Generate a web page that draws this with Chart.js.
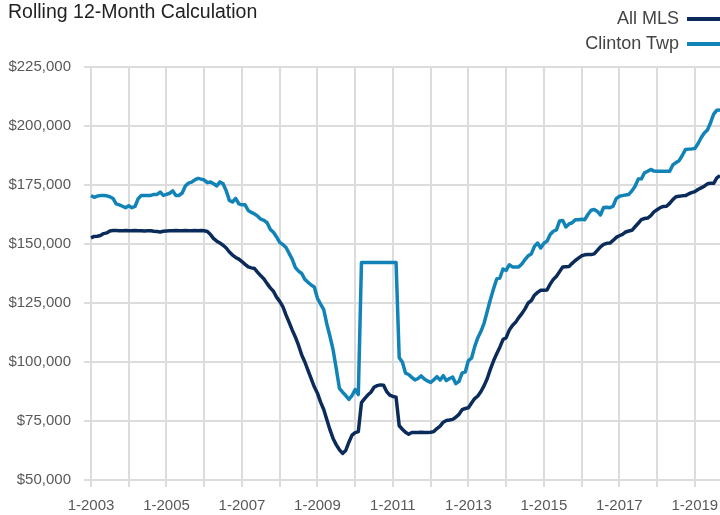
<!DOCTYPE html>
<html lang="en">
<head>
  <meta charset="UTF-8" />
  <title>Rolling 12-Month Calculation</title>
  <script src="https://cdn.jsdelivr.net/npm/chart.js"></script>
  <style>
    body {
      margin: 0;
      background: #fff;
      font-family: 'Liberation Sans', Arial, sans-serif;
    }
    #wrap {
      position: relative;
      width: 720px;
      height: 515px;
      overflow: hidden;
    }
    #title {
      position: absolute;
      left: 8px;
      top: 0;
      font-size: 19.5px;
      color: #222;
      white-space: nowrap;
    }
    #legend {
      position: absolute;
      right: 0;
      top: 6px;
      font-size: 18px;
      color: #444;
      text-align: right;
    }
    .item {
      height: 25px;
      line-height: 25px;
      white-space: nowrap;
    }
    .swatch {
      display: inline-block;
      width: 33px;
      height: 4px;
      margin-left: 8px;
      vertical-align: middle;
    }
    canvas {
      position: absolute;
      left: 0;
      top: 0;
    }
  </style>
</head>
<body>
  <div id="wrap">
    <canvas id="chart" width="720" height="515"></canvas>
    <div id="title">Rolling 12-Month Calculation</div>
    <div id="legend"></div>
  </div>

  <script>
    const startYear = 2003;
    const monthCount = 201; // 1-2003 .. 9-2019

    const seriesNames = ['All MLS', 'Clinton Twp'];
    const seriesColors = ['#0b2c5a', '#1183b7'];

    const allMls = [
      152600, 153200, 153300, 153600, 154400, 154700, 155500, 155700, 155700, 155600,
      155600, 155700, 155600, 155600, 155700, 155600, 155600, 155500, 155600, 155600,
      155400, 155300, 155100, 155400, 155500, 155600, 155600, 155700, 155600, 155600,
      155700, 155600, 155600, 155700, 155600, 155700, 155600, 155300, 154000, 152300,
      151200, 150400, 149500, 148300, 146600, 145300, 144300, 143600, 142500, 141400,
      140300, 139900, 139600, 138000, 136500, 135200, 133200, 131400, 130000, 127500,
      125700, 123500, 120000, 116800, 113500, 110500, 107000, 103000, 100000, 96500,
      93000, 89500, 86800, 83000, 79900, 75500, 71200, 67500, 64900, 62800,
      61300, 62500, 66000, 69000, 70100, 70500, 82800, 84500, 86000, 87200,
      89300, 90000, 90300, 90200, 87500, 86000, 85400, 85100, 73000, 71500,
      70200, 69400, 70100, 70100, 70100, 70200, 70100, 70100, 70200, 70500,
      71800, 72800, 74500, 75200, 75400, 75700, 76600, 77800, 79800, 80300,
      80600, 82600, 84500, 85600, 87500, 90000, 93000, 97000, 100500, 103500,
      106300, 109500, 110300, 113500, 115500, 116800, 118800, 120500, 122500, 125000,
      126000, 128300, 129500, 130400, 130400, 130500, 133000, 135000, 136300, 138300,
      140300, 140400, 140500, 141800, 143000, 144000, 145000, 145400, 145500, 145500,
      145800, 147300, 148800, 149800, 150300, 150400, 151500, 152800, 153500, 154100,
      155100, 155500, 155800, 157300, 158800, 160300, 160800, 161000, 162000, 163600,
      164500, 165400, 165900, 166000, 167200, 168800, 170000, 170200, 170400, 170500,
      171200, 171800, 172200, 173100, 173800, 174500, 175500, 175700, 175700, 178000,
      179000
    ];

    const clintonTwp = [
      170500, 169800, 170300, 170500, 170500, 170400, 170000, 169300, 167000, 166600,
      166000, 165400, 166200, 165400, 165900, 169200, 170600, 170600, 170600, 170600,
      171000, 171000, 172000, 170600, 171000, 171500, 172500, 170600, 170600, 171600,
      174600, 175800, 176200, 177200, 177800, 177500, 177100, 176000, 176300, 175500,
      174600, 176300, 175500, 172500, 168500, 167800, 169300, 167000, 166600, 166600,
      164200, 163400, 162700, 161800, 160500, 160000, 159000, 156200, 155000, 153000,
      150700, 149800, 148500, 146000, 143500, 140000, 138500, 137500, 135000, 133800,
      132600, 131800, 127000, 124500, 122200, 116000, 110800, 105000, 97000, 88800,
      87200, 85800, 84200, 85800, 88300, 86200, 142200, 142200, 142200, 142200,
      142200, 142200, 142200, 142200, 142200, 142200, 142200, 142200, 101800, 100000,
      95300, 94700, 93500, 92400, 93000, 94100, 92800, 92000, 91300, 92500,
      93800, 92400, 94200, 92100, 93000, 93600, 90800, 91800, 95300, 95800,
      100600, 101600, 106500, 110300, 113000, 116500, 121500, 126500, 131000, 135200,
      135600, 139400, 138800, 141200, 140300, 140300, 140300, 141500, 143400, 145000,
      145800, 149000, 150400, 148300, 150300, 151200, 154000, 155400, 156000, 159800,
      160000, 157200, 158500, 159000, 160300, 160300, 160500, 160300, 162500, 164300,
      164600, 163800, 162300, 165500, 165600, 165400, 166000, 169200, 170200, 170500,
      170800, 171000, 172500, 174500, 177500, 177600, 180200, 180800, 181600, 180900,
      180800, 180800, 180800, 180800, 180800, 183500, 184500, 185300, 187500, 190000,
      190200, 190300, 190500, 192500, 195000, 197000, 198300, 201400, 205000, 206700,
      206800
    ];

    const yMin = 50000;
    const yMax = 225000;
    const yStep = 25000;

    // month labels like "1-2003"
    const months = [];
    for (let i = 0; i < monthCount; i++) {
      months.push((i % 12 + 1) + '-' + (startYear + Math.floor(i / 12)));
    }

    const fontFamily = "'Liberation Sans', Arial, sans-serif";
    const gridColor = '#dcdcdc';
    const tickColor = '#595959';

    // html legend, line to the right of the text
    const legend = document.getElementById('legend');
    seriesNames.forEach((name, k) => {
      const row = document.createElement('div');
      row.className = 'item';
      row.innerHTML = name + '<span class="swatch" style="background:' + seriesColors[k] + '"></span>';
      legend.appendChild(row);
    });

    const seriesData = [allMls, clintonTwp];

    const config = {
      type: 'line',
      data: {
        labels: months,
        datasets: seriesNames.map((name, k) => ({
          label: name,
          data: seriesData[k],
          borderColor: seriesColors[k],
          backgroundColor: seriesColors[k],
          borderWidth: 3.5,
          borderJoinStyle: 'round',
          pointRadius: 0,
          fill: false,
          tension: 0
        })).reverse()
      },
      options: {
        responsive: false,
        animation: false,
        layout: {
          padding: { top: 67, right: 0, left: 0, bottom: 0 }
        },
        plugins: {
          legend: { display: false },
          title: { display: false },
          tooltip: { enabled: false }
        },
        scales: {
          x: {
            type: 'category',
            offset: false,
            border: { display: false },
            grid: {
              color: gridColor,
              lineWidth: 2,
              tickLength: 7
            },
            ticks: {
              autoSkip: false,
              maxRotation: 0,
              minRotation: 0,
              padding: 10,
              color: tickColor,
              font: { family: fontFamily, size: 15 },
              callback: function (value, index) {
                if (index % 12 !== 0) return null;
                if (index % 24 !== 0) return '';
                return months[index];
              }
            },
            afterFit: function (scale) {
              scale.height = 35;
              // plot runs to the right edge of the canvas
              scale.paddingRight = 0;
            }
          },
          y: {
            min: yMin,
            max: yMax,
            border: { display: false },
            grid: {
              color: gridColor,
              lineWidth: 2,
              tickLength: 7
            },
            ticks: {
              stepSize: yStep,
              padding: 13,
              color: tickColor,
              font: { family: fontFamily, size: 15 },
              callback: function (value) {
                return '$' + value.toLocaleString('en-US');
              }
            },
            afterFit: function (scale) {
              scale.width = 91;
            }
          }
        }
      }
    };

    new Chart(document.getElementById('chart'), config);
  </script>
</body>
</html>
